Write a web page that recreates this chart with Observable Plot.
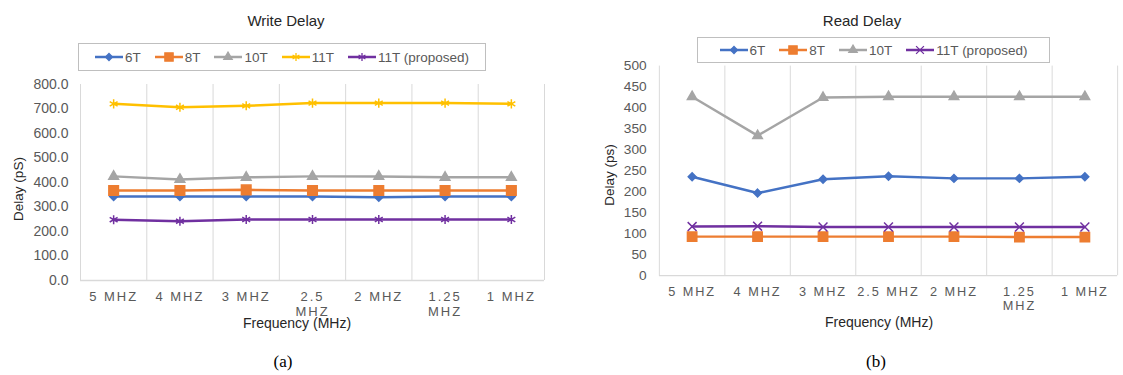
<!DOCTYPE html>
<html><head><meta charset="utf-8">
<script src="https://cdn.jsdelivr.net/npm/d3@7"></script>
<script src="https://cdn.jsdelivr.net/npm/@observablehq/plot@0.6"></script>
<style>
html,body{margin:0;padding:0;background:#fff;overflow:hidden;}
#wrap{position:relative;width:1123px;height:375px;overflow:hidden;font-family:"Liberation Sans",Arial,sans-serif;}
.abs{position:absolute;white-space:nowrap;transform:translate(-50%,-50%);z-index:2;}
.title{font-size:15px;color:#262626;}
.axt{font-size:14px;color:#262626;}
.ylab{font-size:13.5px;color:#262626;transform:translate(-50%,-50%) rotate(-90deg);}
.cap{font-family:"Liberation Serif","Times New Roman",serif;font-size:17px;color:#000;}
.legend{position:absolute;box-sizing:border-box;border:1.5px solid #bfbfbf;display:flex;align-items:center;justify-content:center;gap:14px;font-size:13.5px;color:#595959;z-index:2;background:#fff;}
.item{display:flex;align-items:center;}
.item span{margin-left:2px;}
.plotbox{position:absolute;top:0;}
g[aria-label="x-axis tick label"] text{letter-spacing:2px;}
</style>
</head><body>
<div id="wrap"></div>
<script>
// ---------- data ----------
const freqIndex = [0,1,2,3,4,5,6]; // 5, 4, 3, 2.5, 2, 1.25, 1 MHz
const writeTickLabels = ["5 MHZ","4 MHZ","3 MHZ","2.5\nMHZ","2 MHZ","1.25\nMHZ","1 MHZ"];
const readTickLabels  = ["5 MHZ","4 MHZ","3 MHZ","2.5 MHZ","2 MHZ","1.25\nMHZ","1 MHZ"];

const writeSeries = ["6T","8T","10T","11T","11T (proposed)"];
const write6T   = [343,343,343,343,340,343,343];
const write8T   = [367,367,370,367,367,367,367];
const write10T  = [425,412,421,425,425,421,421];
const write11T  = [721,707,713,724,724,724,721];
const write11TP = [248,242,249,249,249,249,249];
const writeYTicks = [0,100,200,300,400,500,600,700,800];

const readSeries = ["6T","8T","10T","11T (proposed)"];
const read6T   = [236,197,230,237,232,232,236];
const read8T   = [93,93,93,93,93,92,92];
const read10T  = [427,334,425,427,427,427,427];
const read11TP = [117,118,116,116,116,116,116];
const readYTicks = [0,50,100,150,200,250,300,350,400,450,500];

// ---------- styles ----------
const style = {
  "6T":  {color:"#4472C4", symbol:"diamond2", r:3.6},
  "8T":  {color:"#ED7D31", symbol:"square",   r:5.4},
  "10T": {color:"#A5A5A5", symbol:"triangle", r:3.6},
  "11T": {color:"#FFC000", symbol:"asterisk", r:4.3},
  "11T (proposed)": {color:"#7030A0", symbol:"asterisk", r:4.3}
};
const readStyle = Object.assign({}, style, {"11T (proposed)": {color:"#7030A0", symbol:"times", r:4.2}});

function rowsOf(names, arrays){
  const rows = [];
  names.forEach((s,k)=>arrays[k].forEach((v,i)=>rows.push({s, i:freqIndex[i], v})));
  return rows;
}

function chart(o){
  const marks = [
    Plot.ruleX(d3.range(-0.5, 7, 1), {stroke:"#d9d9d9", strokeWidth:1}),
    Plot.ruleY([0], {stroke:"#d9d9d9", strokeWidth:1.5}),
    Plot.axisY({ticks:o.yTicks, tickSize:0, tickPadding:o.yPad, tickFormat:o.yFmt, fontSize:14, label:null}),
    Plot.axisX({ticks:freqIndex, tickSize:0, tickPadding:10, tickFormat:i=>o.tickLabels[i], lineHeight:1.15, fontSize:13, label:null})
  ];
  o.series.forEach(s=>{
    const st = o.style[s];
    const data = o.rows.filter(d=>d.s===s);
    marks.push(Plot.line(data, {x:"i", y:"v", stroke:st.color, strokeWidth:2.5}));
    marks.push(Plot.dot(data, {x:"i", y:"v", symbol:()=>st.symbol, fill:st.color, stroke:st.color, strokeWidth:1.5, r:st.r}));
  });
  return Plot.plot({
    width:o.width, height:o.height,
    marginLeft:o.ml, marginRight:o.mr, marginTop:o.mt, marginBottom:o.mb,
    style:{fontFamily:"Liberation Sans, Arial, sans-serif", fontSize:"14px", color:"#595959", background:"transparent", overflow:"visible"},
    x:{type:"linear", domain:[-0.5,6.5], axis:null, label:null},
    y:{domain:o.yDomain, axis:null, label:null},
    symbol:{type:"identity"},
    marks
  });
}

const wrap = document.getElementById("wrap");
function add(el, x, y){ el.style.left = x+"px"; el.style.top = y+"px"; wrap.appendChild(el); return el; }
function txt(cls, t, x, y){ const d=document.createElement("div"); d.className="abs "+cls; d.textContent=t; return add(d,x,y); }

function legend(names, st, left, top, w, h){
  const box = document.createElement("div");
  box.className="legend";
  box.style.left=left+"px"; box.style.top=top+"px"; box.style.width=w+"px"; box.style.height=h+"px";
  names.forEach(n=>{
    const it=document.createElement("div"); it.className="item";
    const sym = {diamond2:d3.symbolDiamond2, square:d3.symbolSquare, triangle:d3.symbolTriangle, asterisk:d3.symbolAsterisk, times:d3.symbolTimes}[st[n].symbol];
    const path = d3.symbol(sym, Math.PI*st[n].r*st[n].r*0.75)();
    it.innerHTML = `<svg width="28" height="12"><line x1="0" x2="28" y1="6" y2="6" stroke="${st[n].color}" stroke-width="2.5"/><path transform="translate(14,6)" d="${path}" fill="${st[n].color}" stroke="${st[n].color}" stroke-width="1.3"/></svg><span>${n}</span>`;
    box.appendChild(it);
  });
  wrap.appendChild(box);
}

// ---------- left: Write Delay ----------
const wPlot = chart({
  rows: rowsOf(writeSeries, [write6T,write8T,write10T,write11T,write11TP]),
  series: writeSeries, style, yDomain:[0,800], yTicks:writeYTicks, yFmt:d3.format(".1f"), yPad:12,
  tickLabels: writeTickLabels, width:560, height:340, ml:80, mr:16, mt:84, mb:60
});
const wb = document.createElement("div"); wb.className="plotbox"; wb.style.left="0px"; wb.appendChild(wPlot); wrap.appendChild(wb);
txt("title","Write Delay",286,20);
legend(writeSeries, style, 78, 43, 408, 28);
txt("ylab","Delay (pS)",18,189);
txt("axt","Frequency (MHz)",297,323);
txt("cap","(a)",283,362);

// ---------- right: Read Delay ----------
const rPlot = chart({
  rows: rowsOf(readSeries, [read6T,read8T,read10T,read11TP]),
  series: readSeries, style: readStyle, yDomain:[0,500], yTicks:readYTicks, yFmt:d3.format("d"), yPad:13,
  tickLabels: readTickLabels, width:575, height:340, ml:101, mr:6, mt:67, mb:59
});
const rb = document.createElement("div"); rb.className="plotbox"; rb.style.left="560px"; rb.appendChild(rPlot); wrap.appendChild(rb);
txt("title","Read Delay",862,20);
legend(readSeries, readStyle, 697, 37, 353, 26);
txt("ylab","Delay (ps)",609,175);
txt("axt","Frequency (MHz)",879,322);
txt("cap","(b)",876,362);
</script>
</body></html>
